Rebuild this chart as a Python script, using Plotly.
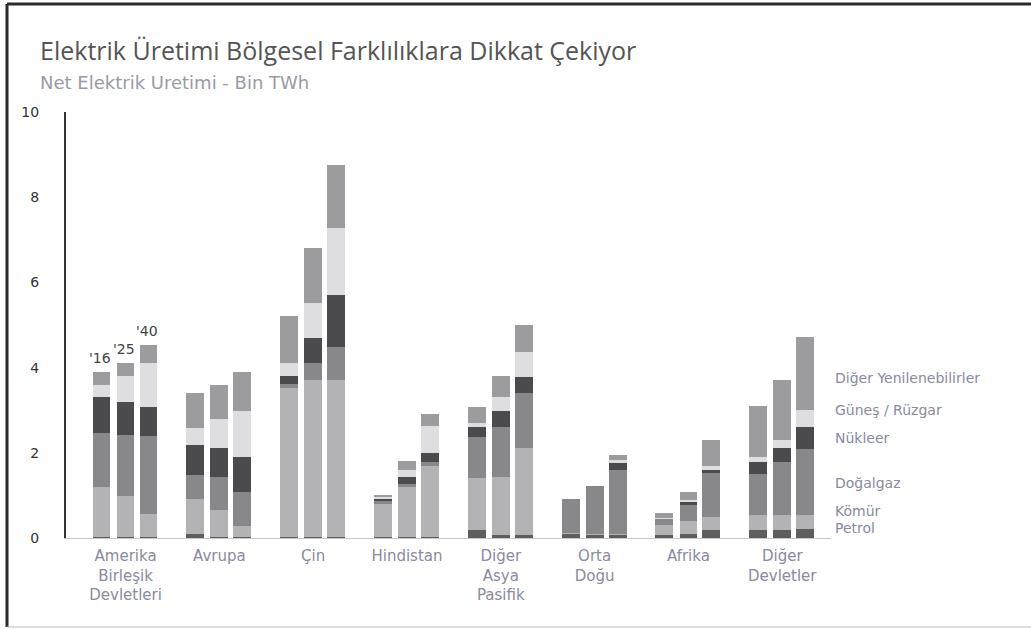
import plotly.graph_objects as go

regions = ["Amerika<br>Birleşik<br>Devletleri", "Avrupa", "Çin", "Hindistan",
           "Diğer<br>Asya<br>Pasifik", "Orta<br>Doğu", "Afrika", "Diğer<br>Devletler"]
years = ["'16", "'25", "'40"]

# values per region, per year (2016, 2025, 2040) — thousand TWh
petrol = [[0.02, 0.02, 0.02], [0.10, 0.03, 0.02], [0.03, 0.02, 0.02], [0.03, 0.02, 0.02],
          [0.19, 0.08, 0.08], [0.10, 0.08, 0.08], [0.08, 0.10, 0.19], [0.19, 0.19, 0.20]]
komur = [[1.18, 0.97, 0.54], [0.82, 0.63, 0.26], [3.48, 3.69, 3.69], [0.77, 1.18, 1.68],
         [1.21, 1.36, 2.03], [0.02, 0.02, 0.02], [0.22, 0.31, 0.31], [0.35, 0.35, 0.34]]
dogalgaz = [[1.27, 1.43, 1.83], [0.56, 0.77, 0.81], [0.11, 0.39, 0.78], [0.06, 0.07, 0.09],
            [0.98, 1.16, 1.30], [0.79, 1.12, 1.50], [0.15, 0.37, 1.02], [0.96, 1.25, 1.56]]
nukleer = [[0.85, 0.78, 0.69], [0.70, 0.68, 0.81], [0.18, 0.60, 1.21], [0.07, 0.16, 0.20],
           [0.22, 0.37, 0.38], [0.00, 0.00, 0.15], [0.01, 0.06, 0.08], [0.29, 0.32, 0.50]]
gunes_ruzgar = [[0.27, 0.60, 1.02], [0.40, 0.68, 1.07], [0.30, 0.81, 1.57], [0.03, 0.17, 0.64],
                [0.09, 0.33, 0.58], [0.00, 0.00, 0.08], [0.01, 0.06, 0.09], [0.12, 0.19, 0.40]]
diger_yen = [[0.31, 0.30, 0.43], [0.82, 0.80, 0.93], [1.12, 1.29, 1.49], [0.06, 0.21, 0.28],
             [0.39, 0.50, 0.63], [0.00, 0.00, 0.12], [0.12, 0.19, 0.61], [1.19, 1.41, 1.71]]

series = [
    ("Petrol", petrol, "#5e5e5e"),
    ("Kömür", komur, "#b3b3b6"),
    ("Doğalgaz", dogalgaz, "#88888b"),
    ("Nükleer", nukleer, "#4b4b4e"),
    ("Güneş / Rüzgar", gunes_ruzgar, "#dedee0"),
    ("Diğer Yenilenebilirler", diger_yen, "#9c9c9f"),
]
# label heights for the right-side series labels (data units)
label_y = [0.23, 0.63, 1.29, 2.35, 3.0, 3.76]

offsets = [-0.256, 0.0, 0.245]

fig = go.Figure()
for name, vals, col in series:
    xs, ys = [], []
    for gi, row in enumerate(vals):
        for yi, v in enumerate(row):
            xs.append(gi + offsets[yi])
            ys.append(v)
    fig.add_trace(go.Bar(x=xs, y=ys, name=name, marker=dict(color=col, line=dict(width=0)),
                         width=0.19, showlegend=False, hoverinfo="skip"))

# year labels above first group
for yi, lab in enumerate(years):
    total = sum(s[1][0][yi] for s in series)
    fig.add_annotation(x=offsets[yi] - 0.02, y=total, text=lab, showarrow=False,
                       yanchor="bottom", yshift=4, font=dict(size=14, color="#444", family="DejaVu Sans"))

# series labels on the right
for (name, vals, col), ly in zip(series, label_y):
    fig.add_annotation(x=1.0, xref="paper", xanchor="left", xshift=2, y=ly, text=name,
                       showarrow=False, font=dict(size=14, color="#8a8aa0", family="DejaVu Sans"))

W, H = 1031, 630
l, r, t, b = 66, 200, 112, 92
pw, ph = W - l - r, H - t - b
def px(xp): return (xp - l) / pw
def py(yp): return (H - b - yp) / ph

fig.update_layout(
    width=W, height=H,
    margin=dict(l=l, r=r, t=t, b=b),
    paper_bgcolor="white", plot_bgcolor="white",
    barmode="stack", bargap=0,
    font=dict(family="DejaVu Sans", color="#555"),
    xaxis=dict(range=[-0.635, 7.52], tickvals=list(range(len(regions))), ticktext=regions,
               showgrid=False, zeroline=False, showline=True, linecolor="#c8c8c8", linewidth=1,
               ticks="", ticklabelstandoff=4,
               tickfont=dict(size=15, color="#8a8aa0", family="DejaVu Sans")),
    yaxis=dict(range=[0, 10], tickvals=[0, 2, 4, 6, 8, 10], showgrid=False, zeroline=False,
               showline=True, linecolor="#333", linewidth=2, ticks="",
               ticklabelstandoff=22, tickfont=dict(size=14, color="#333", family="DejaVu Sans")),
)

fig.add_shape(type="line", xref="paper", yref="paper", x0=px(7), x1=px(1031), y0=py(4), y1=py(4),
              line=dict(color="#2a2a2a", width=3))
fig.add_shape(type="line", xref="paper", yref="paper", x0=px(7), x1=px(7), y0=py(4), y1=py(627),
              line=dict(color="#2a2a2a", width=3))
fig.add_shape(type="line", xref="paper", yref="paper", x0=px(7), x1=px(1031), y0=py(627), y1=py(627),
              line=dict(color="#bbbbbb", width=1))

fig.add_annotation(xref="paper", yref="paper", x=px(38), y=py(50), xanchor="left", yanchor="middle",
                   text="Elektrik Üretimi Bölgesel Farklılıklara Dikkat Çekiyor", showarrow=False,
                   font=dict(size=25, color="#555", family="Open Sans"))
fig.add_annotation(xref="paper", yref="paper", x=px(38), y=py(82), xanchor="left", yanchor="middle",
                   text="Net Elektrik Uretimi - Bin TWh", showarrow=False,
                   font=dict(size=18, color="#9a9aa6", family="DejaVu Sans"))

fig.write_html("out.html", config={"displayModeBar": False},
               post_script="document.body.style.margin='0';document.body.style.padding='0';")
